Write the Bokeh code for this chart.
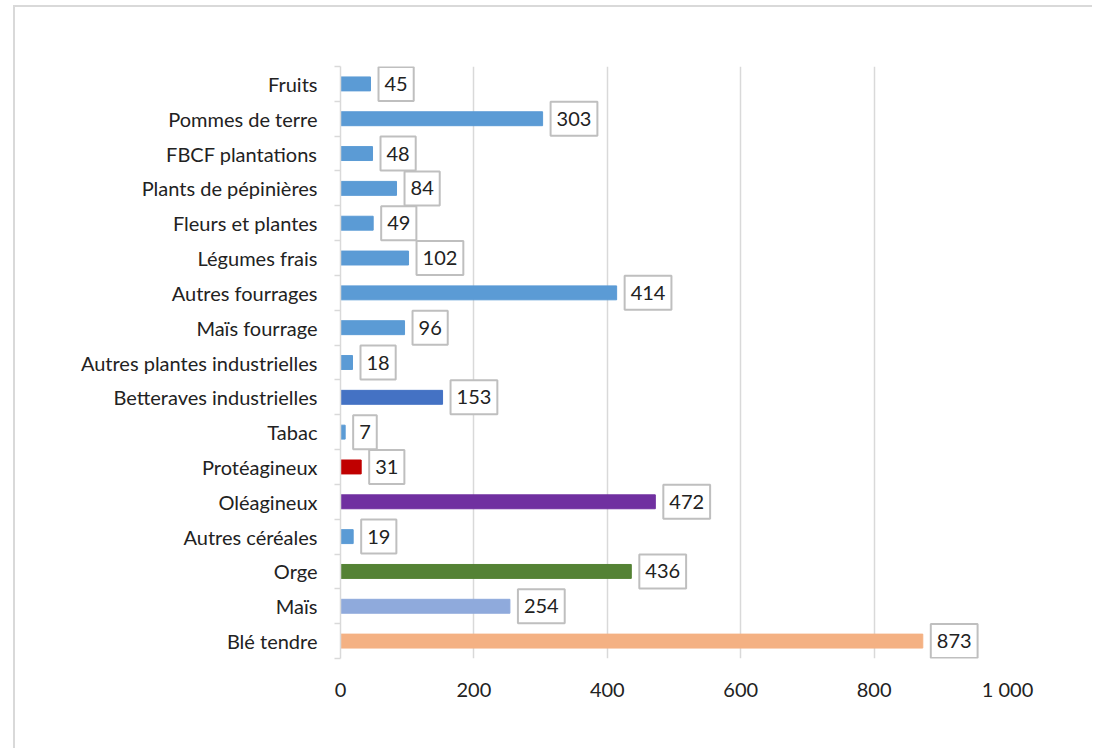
from bokeh.plotting import figure
from bokeh.models import FixedTicker, ColumnDataSource
from bokeh.core.properties import value
from bokeh.embed import file_html
from bokeh.resources import INLINE

# Categories listed top to bottom
categories = [
    "Fruits", "Pommes de terre", "FBCF plantations", "Plants de pépinières",
    "Fleurs et plantes", "Légumes frais", "Autres fourrages", "Maïs fourrage",
    "Autres plantes industrielles", "Betteraves industrielles", "Tabac",
    "Protéagineux", "Oléagineux", "Autres céréales", "Orge", "Maïs", "Blé tendre",
]
values = [45, 303, 48, 84, 49, 102, 414, 96, 18, 153, 7, 31, 472, 19, 436, 254, 873]
colors = [
    "#5B9BD5", "#5B9BD5", "#5B9BD5", "#5B9BD5", "#5B9BD5", "#5B9BD5", "#5B9BD5",
    "#5B9BD5", "#5B9BD5", "#4472C4", "#5B9BD5", "#C00000", "#7030A0", "#5B9BD5",
    "#548235", "#8FAADC", "#F4B183",
]
x_ticks = [0, 200, 400, 600, 800, 1000]
x_tick_labels = ["0", "200", "400", "600", "800", "1 000"]

n = len(categories)
ypos = [n - 1 - i for i in range(n)]  # first category at top

src = ColumnDataSource(dict(
    y=ypos, v=values, c=colors, lab=[str(v) for v in values], cat=categories,
))

FONT = "Lato"
TXT = "#222222"
FS = "20px"

# the chart sits inside a light frame offset from the page corner
OFF_X, OFF_Y = 13, 5

p = figure(
    width=1094 - OFF_X - 2, height=750 - OFF_Y - 2,
    output_backend="svg", toolbar_location=None,
    x_range=(0, 1000), y_range=(-0.5, n - 0.5),
    min_border_left=340 - OFF_X - 2, min_border_right=87,
    min_border_top=66 - OFF_Y - 2, min_border_bottom=94 - 2,
    background_fill_color="white", border_fill_color="white",
)
p.styles = {
    "margin-left": f"{OFF_X}px", "margin-top": f"{OFF_Y}px",
    "border-left": "2px solid #D9D9D9", "border-top": "2px solid #D9D9D9",
}
p.outline_line_color = None

p.hbar(y="y", right="v", left=0, height=0.4, color="c", source=src)

# boxed value labels just past each bar end
p.text(
    x="v", y="y", text="lab", source=src,
    anchor="center_left", x_offset=8, y_offset=0,
    text_font=value(FONT), text_font_size=FS, text_color=TXT,
    text_baseline="middle", text_align="left",
    background_fill_color="white",
    border_line_color="#BFBFBF", border_line_width=2,
    padding=(6, 10),
)

# x axis: labels only, vertical gridlines
p.xaxis.ticker = FixedTicker(ticks=x_ticks)
p.xaxis.major_label_overrides = dict(zip(x_ticks, x_tick_labels))
p.xaxis.axis_line_color = None
p.xaxis.major_tick_line_color = None
p.xaxis.minor_tick_line_color = None
p.xaxis.major_label_standoff = 12
p.xaxis.major_label_text_font = FONT
p.xaxis.major_label_text_font_size = FS
p.xaxis.major_label_text_color = TXT
p.xgrid.ticker = FixedTicker(ticks=x_ticks[1:])
p.xgrid.grid_line_color = "#D9D9D9"
p.xgrid.grid_line_width = 1.5

# y axis: category names, tick marks between categories
p.yaxis.ticker = FixedTicker(ticks=ypos, minor_ticks=[k - 0.5 for k in range(n + 1)])
p.yaxis.major_label_overrides = {y: c for y, c in zip(ypos, categories)}
p.yaxis.axis_line_color = "#D9D9D9"
p.yaxis.axis_line_width = 1.5
p.yaxis.major_tick_line_color = None
p.yaxis.minor_tick_line_color = "#D9D9D9"
p.yaxis.minor_tick_line_width = 1.5
p.yaxis.minor_tick_out = 6
p.yaxis.minor_tick_in = 0
p.yaxis.major_tick_out = 0
p.yaxis.major_tick_in = 0
p.yaxis.major_label_standoff = 17
p.yaxis.major_label_text_font = FONT
p.yaxis.major_label_text_font_size = FS
p.yaxis.major_label_text_color = TXT
p.ygrid.grid_line_color = None

open("out.html", "w").write(file_html(p, INLINE))
